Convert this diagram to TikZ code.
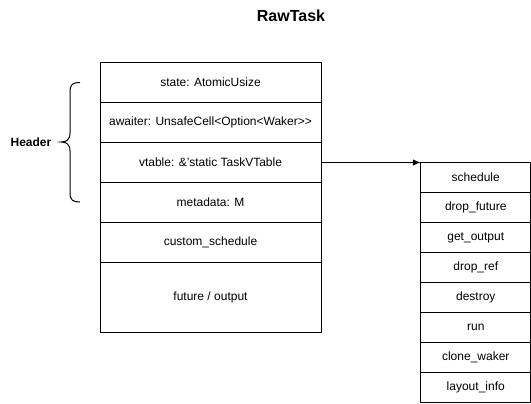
\documentclass[tikz,border=0pt]{standalone}
\usepackage{fontspec}
\setmainfont{Liberation Sans}
\usetikzlibrary{arrows.meta}
\begin{document}
\begin{tikzpicture}[x=0.75pt,y=-0.75pt,
  cell/.style={draw,line width=0.75pt,inner sep=0pt,outer sep=0pt,font=\fontsize{9}{11}\selectfont,minimum width=165.75pt,minimum height=30pt},
  vcell/.style={draw,line width=0.75pt,inner sep=0pt,outer sep=0pt,font=\fontsize{9}{11}\selectfont,minimum width=82.5pt,minimum height=22.5pt},
  lbl/.style={font=\bfseries\fontsize{9}{11}\selectfont,inner sep=0pt}]
\useasboundingbox (0,0) rectangle (531,403);
\node[font=\bfseries\fontsize{12}{14}\selectfont,inner sep=0pt] (title) at (291,16) {RawTask};
\node[cell] (state) at (210.5,82.5) {state: AtomicUsize};
\node[cell] (awaiter) at (210.5,122.5) {awaiter: UnsafeCell<Option<Waker>{}>};
\node[cell] (vtable) at (210.5,162.5) {vtable: \&\symbol{39}static TaskVTable};
\node[cell] (meta) at (210.5,202.5) {metadata: M};
\node[cell] (custom) at (210.5,242.5) {custom\_schedule};
\node[cell,minimum height=52.5pt] (future) at (210.5,297.5) {future / output};
\node[vcell] (sched) at (475.75,177.5) {schedule};
\node[vcell] (dropfut) at (475.75,207.5) {drop\_future};
\node[vcell] (getout) at (475.75,237.5) {get\_output};
\node[vcell] (dropref) at (475.75,267.5) {drop\_ref};
\node[vcell] (destroy) at (475.75,297.5) {destroy};
\node[vcell] (run) at (475.75,327.5) {run};
\node[vcell] (clone) at (475.75,357.5) {clone\_waker};
\node[vcell] (layout) at (475.75,387.5) {layout\_info};
\node[lbl] (header) at (31,142) {Header};
\draw[line width=0.75pt] (80,82.5) .. controls (73,82.5) and (70,84) .. (70,92)
  -- (70,133) .. controls (70,140) and (66,142) .. (61,142)
  .. controls (66,142) and (70,144) .. (70,151)
  -- (70,193) .. controls (70,200) and (73,202) .. (80,202);
\draw[line width=0.75pt,-{Latex[length=6pt,width=5pt]}] (vtable.east) -- (sched.north west);
\end{tikzpicture}
\end{document}
